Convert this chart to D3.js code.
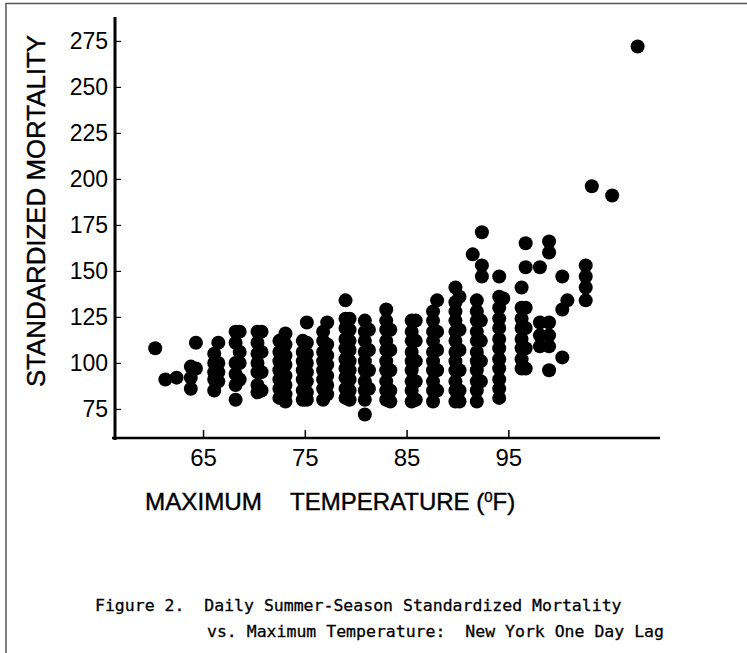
<!DOCTYPE html>
<html>
<head>
<meta charset="utf-8">
<script src="https://cdn.jsdelivr.net/npm/d3@7"></script>
<style>
  body { margin: 0; background: #fff; }
  svg { display: block; }
</style>
</head>
<body>
<div id="chart"></div>
<script>
// Temperature (deg F) of each column of dots
const tempColumns = [
  60.3, 61.3, 62.4, 63.8, 64.3, 66.1, 66.5, 68.2, 68.6, 70.35,
  70.75, 72.5, 73.1, 74.8, 75.2, 76.8, 77.2, 79.0, 79.4, 80.9,
  81.3, 83.0, 83.4, 85.5, 85.9, 87.6, 88.0, 89.8, 90.2, 91.5,
  91.9, 92.4, 92.3, 94.1, 94.5, 96.3, 96.7, 98.1, 99.0, 100.3,
  100.8, 102.6, 103.2, 105.2, 107.7
];

// Standardized mortality values of the dots in each column
const mortalityColumns = [
  [108],
  [91],
  [92],
  [98, 92, 86],
  [111, 97],
  [105, 100, 95, 91, 85],
  [111, 100, 95, 90],
  [117, 111, 100, 94, 88, 80],
  [117, 106, 100, 91],
  [117, 111, 105, 100, 95, 88, 84],
  [117, 106, 95, 85],
  [112, 106, 101, 96, 91, 86, 81],
  [116, 110, 104, 99, 93, 88, 83, 79],
  [112, 106, 101, 96, 91, 85, 80],
  [122, 111, 105, 100, 95, 90, 84, 80],
  [117, 112, 106, 101, 96, 91, 86, 80],
  [122, 110, 104, 99, 93, 88, 83],
  [134, 124, 119, 113, 108, 102, 97, 92, 86, 81],
  [124, 118, 112, 107, 101, 96, 91, 85, 80],
  [123, 117, 112, 106, 101, 96, 90, 85, 80, 72],
  [118, 107, 96, 86],
  [129, 123, 118, 112, 107, 101, 96, 90, 85, 80],
  [118, 107, 96, 85, 79],
  [123, 117, 112, 106, 101, 96, 90, 85, 79],
  [123, 112, 101, 90, 80],
  [128, 123, 117, 112, 106, 101, 96, 90, 85, 79],
  [134, 117, 107, 96, 85],
  [141, 133, 128, 123, 117, 112, 106, 101, 96, 90, 85, 79],
  [136, 118, 107, 96, 85, 79],
  [159],
  [134, 128, 123, 117, 112, 106, 101, 96, 90, 85, 79],
  [171, 153, 147],
  [123, 112, 101, 90],
  [147, 136, 130, 124, 119, 113, 108, 102, 97, 91, 86, 81],
  [135],
  [141, 130, 124, 119, 113, 108, 102, 97],
  [165, 152, 130, 119, 108, 97],
  [152, 122, 115, 109],
  [166, 160, 122, 115, 109, 96],
  [147, 129, 103],
  [134],
  [153, 147, 141, 134],
  [196],
  [191],
  [272]
];

const xTicks = [65, 75, 85, 95];
const yTicks = [75, 100, 125, 150, 175, 200, 225, 250, 275];

// One point per dot
const points = [];
tempColumns.forEach(function (t, i) {
  mortalityColumns[i].forEach(function (m) {
    points.push({ temp: t, mort: m });
  });
});

const W = 747, H = 653;

const svg = d3.select("#chart")
  .append("svg")
  .attr("width", W)
  .attr("height", H);

// Thin scan frame
svg.append("rect")
  .attr("x", 6).attr("y", 3.5)
  .attr("width", 780).attr("height", 700)
  .attr("fill", "none")
  .attr("stroke", "#555")
  .attr("stroke-width", 1.5);

// Scales
const x = d3.scaleLinear().domain([56.35, 109.9]).range([115, 660]);
const y = d3.scaleLinear().domain([59.2, 288]).range([438, 17]);

const sans = "'Liberation Sans', Arial, sans-serif";

// Dots
svg.append("g")
  .selectAll("circle")
  .data(points)
  .enter()
  .append("circle")
  .attr("cx", d => x(d.temp))
  .attr("cy", d => y(d.mort))
  .attr("r", 7)
  .attr("fill", "#000");

// x axis
const gx = svg.append("g")
  .attr("transform", "translate(0,438)")
  .call(d3.axisBottom(x).tickValues(xTicks).tickSize(-8).tickPadding(11).tickSizeOuter(0));
gx.select(".domain").attr("stroke-width", 2.5).attr("d", "M112,0H660");
gx.selectAll(".tick line").attr("stroke-width", 1.5);
gx.selectAll(".tick text")
  .attr("font-family", sans)
  .attr("font-size", 24)
  .attr("fill", "#000");

// y axis
const gy = svg.append("g")
  .attr("transform", "translate(115,0)")
  .call(d3.axisLeft(y).tickValues(yTicks).tickSize(-6).tickPadding(7).tickSizeOuter(0));
gy.select(".domain").attr("stroke-width", 3).attr("d", "M0,17V440");
gy.selectAll(".tick line").attr("stroke-width", 1.2);
gy.selectAll(".tick text")
  .attr("font-family", sans)
  .attr("font-size", 23)
  .attr("fill", "#000");

// y axis title
svg.append("text")
  .attr("transform", "translate(45,211) rotate(-90)")
  .attr("text-anchor", "middle")
  .attr("font-family", sans)
  .attr("font-size", 25)
  .attr("stroke", "#000")
  .attr("stroke-width", 0.4)
  .attr("textLength", 352)
  .attr("lengthAdjust", "spacingAndGlyphs")
  .text("STANDARDIZED MORTALITY");

// x axis title
svg.append("text")
  .attr("x", 145).attr("y", 510)
  .attr("font-family", sans)
  .attr("font-size", 24)
  .attr("stroke", "#000")
  .attr("stroke-width", 0.4)
  .attr("textLength", 117)
  .attr("lengthAdjust", "spacingAndGlyphs")
  .text("MAXIMUM");

const xt = svg.append("text")
  .attr("x", 290).attr("y", 510)
  .attr("font-family", sans)
  .attr("font-size", 24)
  .attr("stroke", "#000")
  .attr("stroke-width", 0.4);
xt.append("tspan").text("TEMPERATURE (");
xt.append("tspan").attr("dy", -8).attr("font-size", 15).text("0");
xt.append("tspan").attr("dy", 8).text("F)");

// Caption
const mono = "'DejaVu Sans Mono', 'Liberation Mono', monospace";
svg.append("text")
  .attr("x", 95).attr("y", 611)
  .attr("font-family", mono)
  .attr("font-size", 16.5)
  .attr("stroke", "#000")
  .attr("stroke-width", 0.3)
  .style("white-space", "pre")
  .text("Figure 2.  Daily Summer-Season Standardized Mortality");
svg.append("text")
  .attr("x", 207).attr("y", 637)
  .attr("font-family", mono)
  .attr("font-size", 16.5)
  .attr("stroke", "#000")
  .attr("stroke-width", 0.3)
  .style("white-space", "pre")
  .text("vs. Maximum Temperature:  New York One Day Lag");
</script>
</body>
</html>
